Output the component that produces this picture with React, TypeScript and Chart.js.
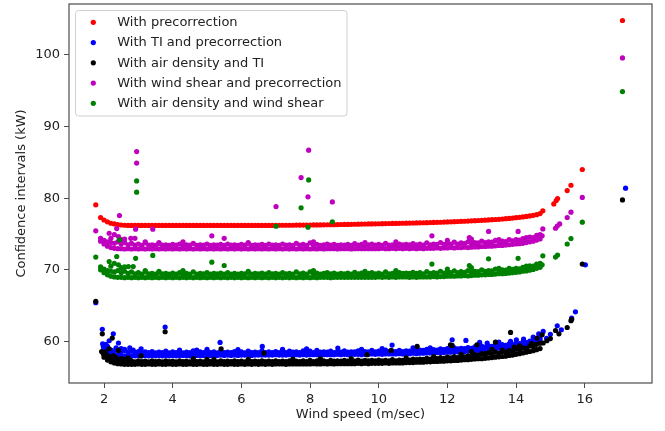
import React, { useEffect, useRef } from "react";
import { Chart, registerables } from "chart.js";

Chart.register(...registerables);

// Shared wind-speed positions for the dense part of each band (m/sec)
const windGrid = [
  1.9, 2.0, 2.1, 2.2, 2.3, 2.4, 2.5, 2.6, 2.7, 2.8,
  2.9, 3.0, 3.1, 3.2, 3.3, 3.4, 3.5, 3.6, 3.7, 3.8,
  3.9, 4.0, 4.1, 4.2, 4.3, 4.4, 4.5, 4.6, 4.7, 4.8,
  4.9, 5.0, 5.1, 5.2, 5.3, 5.4, 5.5, 5.6, 5.7, 5.8,
  5.9, 6.0, 6.1, 6.2, 6.3, 6.4, 6.5, 6.6, 6.7, 6.8,
  6.9, 7.0, 7.1, 7.2, 7.3, 7.4, 7.5, 7.6, 7.7, 7.8,
  7.9, 8.0, 8.1, 8.2, 8.3, 8.4, 8.5, 8.6, 8.7, 8.8,
  8.9, 9.0, 9.1, 9.2, 9.3, 9.4, 9.5, 9.6, 9.7, 9.8,
  9.9, 10.0, 10.1, 10.2, 10.3, 10.4, 10.5, 10.6, 10.7, 10.8,
  10.9, 11.0, 11.1, 11.2, 11.3, 11.4, 11.5, 11.6, 11.7, 11.8,
  11.9, 12.0, 12.1, 12.2, 12.3, 12.4, 12.5, 12.6, 12.7, 12.8,
  12.9, 13.0, 13.1, 13.2, 13.3, 13.4, 13.5, 13.6, 13.7, 13.8,
  13.9, 14.0, 14.1, 14.2, 14.3, 14.4, 14.5, 14.6, 14.7,
];

// With precorrection (red)
const precorrectionBand = [
  77.3, 76.95, 76.7, 76.5, 76.4, 76.3, 76.25, 76.22, 76.2, 76.2,
  76.2, 76.2, 76.2, 76.2, 76.2, 76.2, 76.2, 76.2, 76.2, 76.2,
  76.2, 76.2, 76.2, 76.2, 76.2, 76.2, 76.2, 76.2, 76.2, 76.2,
  76.2, 76.2, 76.2, 76.2, 76.2, 76.2, 76.2, 76.2, 76.2, 76.2,
  76.2, 76.2, 76.2, 76.2, 76.2, 76.2, 76.2, 76.2, 76.2, 76.2,
  76.2, 76.2, 76.22, 76.22, 76.22, 76.22, 76.22, 76.24, 76.24, 76.24,
  76.25, 76.25, 76.26, 76.27, 76.27, 76.28, 76.29, 76.3, 76.3, 76.31,
  76.32, 76.33, 76.34, 76.35, 76.36, 76.37, 76.38, 76.39, 76.4, 76.41,
  76.42, 76.43, 76.44, 76.45, 76.46, 76.47, 76.48, 76.49, 76.5, 76.51,
  76.52, 76.53, 76.54, 76.55, 76.57, 76.58, 76.6, 76.61, 76.63, 76.64,
  76.66, 76.68, 76.7, 76.72, 76.74, 76.76, 76.78, 76.8, 76.83, 76.85,
  76.88, 76.9, 76.93, 76.96, 76.99, 77.02, 77.05, 77.09, 77.13, 77.17,
  77.22, 77.27, 77.32, 77.38, 77.45, 77.52, 77.6, 77.7, 77.85,
];
const precorrectionExtra = [
  [1.76, 79.07], [14.78, 78.23], [15.1, 79.2], [15.17, 79.67], [15.21, 79.95],
  [15.49, 81.06], [15.6, 81.8], [15.93, 84.0], [17.1, 104.8],
];

// With TI and precorrection (blue): lower and upper edge of the dense band
const tiPrecorrectionLow = [
  null, 59.0, 58.6, 58.35, 58.2, 58.1, 58.05, 58.0, 58.0, 58.0,
  58.0, 58.05, 58.0, 58.05, 58.0, 58.05, 58.0, 58.05, 58.0, 58.05,
  58.0, 58.05, 58.0, 58.05, 58.05, 58.05, 58.0, 58.05, 58.05, 58.05,
  58.05, 58.1, 58.05, 58.05, 58.05, 58.1, 58.05, 58.1, 58.05, 58.1,
  58.05, 58.1, 58.1, 58.1, 58.05, 58.1, 58.1, 58.1, 58.1, 58.1,
  58.1, 58.15, 58.1, 58.1, 58.1, 58.15, 58.1, 58.15, 58.1, 58.15,
  58.1, 58.15, 58.15, 58.15, 58.1, 58.15, 58.15, 58.15, 58.15, 58.2,
  58.15, 58.2, 58.15, 58.2, 58.2, 58.2, 58.15, 58.2, 58.2, 58.25,
  58.2, 58.25, 58.2, 58.25, 58.25, 58.25, 58.25, 58.3, 58.25, 58.3,
  58.3, 58.35, 58.3, 58.35, 58.35, 58.4, 58.4, 58.4, 58.45, 58.45,
  58.45, 58.5, 58.5, 58.55, 58.55, 58.6, 58.6, 58.65, 58.7, 58.75,
  58.75, 58.8, 58.85, 58.9, 58.95, 59.0, 59.05, 59.1, 59.15, 59.25,
  59.3, 59.35, 59.45, 59.55, 59.6, 59.7, 59.8, 59.95, 60.05,
];
const tiPrecorrectionHigh = [
  null, 59.4, 59.0, 58.8, 58.7, 58.85, 58.55, 58.75, 58.5, 58.65,
  58.45, 58.6, 58.4, 58.55, 58.45, 58.6, 58.4, 58.5, 58.45, 58.65,
  58.4, 58.55, 58.45, 58.6, 58.4, 58.5, 58.45, 58.7, 58.4, 58.55,
  58.45, 58.7, 58.45, 58.55, 58.4, 58.65, 58.45, 58.5, 58.45, 58.6,
  58.45, 58.55, 58.4, 58.65, 58.45, 58.5, 58.45, 58.7, 58.45, 58.55,
  58.45, 58.6, 58.45, 58.55, 58.45, 58.65, 58.5, 58.55, 58.45, 58.7,
  58.5, 58.65, 58.45, 58.75, 58.5, 58.55, 58.5, 58.65, 58.45, 58.6,
  58.5, 58.7, 58.5, 58.55, 58.55, 58.7, 58.5, 58.6, 58.55, 58.75,
  58.55, 58.65, 58.55, 58.8, 58.6, 58.65, 58.6, 58.75, 58.6, 58.7,
  58.65, 58.8, 58.7, 58.8, 58.75, 58.9, 58.75, 58.85, 58.8, 58.95,
  58.85, 59.0, 58.9, 59.1, 58.95, 59.05, 59.0, 59.15, 59.05, 59.25,
  59.15, 59.35, 59.2, 59.4, 59.3, 59.45, 59.35, 59.55, 59.45, 59.65,
  59.55, 59.8, 59.7, 59.9, 59.85, 60.05, 60.0, 60.3, 60.4,
];
const tiPrecorrectionExtra = [
  [1.76, 65.4], [1.95, 61.7], [1.96, 59.68], [1.98, 59.3], [2.05, 59.6], [2.15, 60.1],
  [2.1, 59.3], [2.27, 61.07], [2.42, 59.78], [2.35, 59.1], [2.5, 59.0], [2.6, 58.9],
  [2.75, 59.1], [2.85, 58.8], [3.08, 58.98], [3.78, 62.0], [4.2, 58.8], [4.7, 58.8],
  [5.0, 58.9], [5.38, 59.87], [5.9, 58.85], [6.61, 59.3], [7.2, 58.9], [7.9, 58.95],
  [8.81, 59.07], [9.5, 58.9], [10.39, 59.5], [10.1, 59.0], [11.0, 59.1], [11.5, 59.1],
  [12.14, 60.24], [12.54, 60.14], [12.94, 59.86], [13.16, 59.78], [13.5, 59.9],
  [13.84, 60.0], [14.01, 60.24], [14.22, 60.33], [14.5, 60.6], [14.66, 61.07],
  [14.79, 61.4], [14.89, 60.42], [15.0, 61.0], [15.2, 62.19], [15.32, 61.63],
  [15.62, 63.26], [15.73, 64.14], [16.02, 70.7], [17.19, 81.4],
];

// With air density and TI (black): lower and upper edge of the dense band
const airTiLow = [
  null, 57.8, 57.4, 57.15, 57.0, 56.9, 56.85, 56.8, 56.8, 56.8,
  56.8, 56.85, 56.8, 56.8, 56.85, 56.8, 56.8, 56.85, 56.8, 56.8,
  56.85, 56.8, 56.8, 56.85, 56.8, 56.8, 56.85, 56.8, 56.8, 56.85,
  56.8, 56.8, 56.85, 56.8, 56.8, 56.85, 56.8, 56.8, 56.85, 56.8,
  56.8, 56.85, 56.8, 56.85, 56.8, 56.85, 56.8, 56.85, 56.8, 56.85,
  56.8, 56.85, 56.85, 56.85, 56.8, 56.85, 56.85, 56.85, 56.85, 56.85,
  56.85, 56.85, 56.9, 56.85, 56.85, 56.9, 56.85, 56.9, 56.85, 56.9,
  56.9, 56.9, 56.9, 56.9, 56.9, 56.95, 56.9, 56.95, 56.9, 56.95,
  56.95, 56.95, 56.95, 57.0, 56.95, 57.0, 57.0, 57.0, 57.0, 57.05,
  57.05, 57.05, 57.1, 57.1, 57.1, 57.15, 57.15, 57.2, 57.2, 57.25,
  57.25, 57.3, 57.3, 57.35, 57.35, 57.4, 57.45, 57.45, 57.5, 57.55,
  57.6, 57.6, 57.65, 57.7, 57.75, 57.8, 57.85, 57.9, 57.95, 58.05,
  58.1, 58.2, 58.3, 58.4, 58.5, 58.6, 58.7, 58.85, 59.0,
];
const airTiHigh = [
  null, 58.3, 58.0, 57.7, 57.55, 57.45, 57.35, 57.3, 57.25, 57.3,
  57.15, 57.3, 57.2, 57.25, 57.15, 57.3, 57.2, 57.25, 57.15, 57.3,
  57.2, 57.25, 57.15, 57.3, 57.2, 57.25, 57.15, 57.3, 57.2, 57.25,
  57.15, 57.3, 57.2, 57.25, 57.15, 57.3, 57.2, 57.25, 57.2, 57.3,
  57.2, 57.25, 57.15, 57.3, 57.2, 57.25, 57.2, 57.3, 57.2, 57.25,
  57.2, 57.3, 57.2, 57.25, 57.2, 57.3, 57.2, 57.25, 57.2, 57.3,
  57.2, 57.35, 57.2, 57.3, 57.25, 57.3, 57.2, 57.35, 57.25, 57.3,
  57.25, 57.35, 57.25, 57.3, 57.25, 57.4, 57.25, 57.35, 57.3, 57.35,
  57.3, 57.4, 57.3, 57.35, 57.3, 57.45, 57.3, 57.4, 57.35, 57.45,
  57.4, 57.55, 57.45, 57.55, 57.5, 57.65, 57.55, 57.6, 57.6, 57.75,
  57.65, 57.8, 57.7, 57.9, 57.75, 58.0, 57.85, 58.0, 57.95, 58.15,
  58.05, 58.3, 58.15, 58.4, 58.25, 58.5, 58.35, 58.6, 58.5, 58.75,
  58.65, 58.9, 58.85, 59.1, 59.05, 59.35, 59.3, 59.6, 59.75,
];
const airTiExtra = [
  [1.76, 65.6], [1.95, 61.07], [1.93, 58.6], [1.98, 58.3], [2.03, 58.5], [2.08, 58.1],
  [2.15, 58.98], [2.24, 60.47], [2.2, 57.9], [2.28, 58.0], [2.35, 57.7], [2.42, 58.75],
  [2.5, 57.6], [2.6, 57.5], [2.7, 57.7], [2.75, 57.4], [3.08, 58.0], [3.78, 61.35],
  [4.6, 57.6], [5.0, 57.5], [5.41, 58.98], [5.2, 57.5], [6.66, 58.38], [6.2, 57.5],
  [7.5, 57.55], [8.3, 57.6], [9.66, 58.15], [9.2, 57.6], [10.36, 58.75], [10.8, 57.7],
  [11.12, 59.3], [11.6, 57.9], [12.09, 59.54], [12.14, 59.45], [12.4, 58.2], [12.7, 58.6],
  [12.86, 59.54], [13.1, 58.3], [13.3, 58.9], [13.4, 59.9], [13.6, 58.8], [13.84, 61.26],
  [13.95, 59.2], [14.1, 59.4], [14.3, 58.9], [14.45, 59.7], [14.61, 60.47], [14.76, 60.93],
  [14.79, 59.78], [14.9, 60.1], [15.0, 60.4], [15.15, 61.53], [15.25, 61.07], [15.49, 61.95],
  [15.6, 62.9], [15.62, 63.1], [15.93, 70.8], [17.1, 79.76],
];

// With wind shear and precorrection (magenta): lower and upper edge of the dense band
const shearPrecorrectionLow = [
  74.0, 73.6, 73.3, 73.1, 73.0, 72.95, 72.95, 72.9, 72.95, 72.9,
  72.95, 72.9, 72.95, 72.9, 72.95, 72.9, 72.95, 72.9, 72.95, 72.9,
  72.95, 72.9, 72.95, 72.9, 72.95, 72.9, 72.95, 72.9, 72.95, 72.9,
  72.95, 72.9, 72.95, 72.9, 72.95, 72.9, 72.95, 72.9, 72.95, 72.9,
  72.95, 72.9, 72.95, 72.9, 72.95, 72.9, 72.95, 72.9, 72.95, 72.9,
  72.95, 72.9, 72.95, 72.9, 72.95, 72.9, 72.95, 72.9, 72.95, 72.9,
  72.95, 72.9, 72.95, 72.9, 72.95, 72.9, 72.95, 72.95, 72.95, 72.9,
  72.95, 72.95, 72.95, 72.9, 72.95, 72.95, 72.95, 72.95, 72.95, 72.95,
  72.95, 72.95, 73.0, 72.95, 72.95, 73.0, 72.95, 73.0, 72.95, 73.0,
  72.95, 73.0, 72.95, 73.0, 72.95, 73.0, 73.0, 73.0, 73.05, 73.0,
  73.05, 73.05, 73.1, 73.05, 73.1, 73.1, 73.15, 73.1, 73.15, 73.2,
  73.2, 73.25, 73.25, 73.3, 73.3, 73.35, 73.4, 73.4, 73.45, 73.5,
  73.55, 73.6, 73.65, 73.7, 73.8, 73.9, 74.0, 74.15, 74.3,
];
const shearPrecorrectionHigh = [
  74.4, 74.1, 73.9, 73.8, 73.7, 73.9, 73.6, 73.8, 73.5, 73.7,
  73.45, 73.6, 73.4, 73.75, 73.45, 73.5, 73.4, 73.65, 73.45, 73.5,
  73.4, 73.55, 73.45, 73.6, 73.4, 73.5, 73.45, 73.7, 73.4, 73.5,
  73.45, 73.6, 73.4, 73.5, 73.45, 73.55, 73.4, 73.6, 73.45, 73.5,
  73.4, 73.55, 73.45, 73.65, 73.4, 73.5, 73.45, 73.55, 73.4, 73.6,
  73.45, 73.5, 73.4, 73.6, 73.45, 73.5, 73.4, 73.7, 73.45, 73.55,
  73.4, 73.75, 73.45, 73.55, 73.4, 73.5, 73.6, 73.45, 73.55, 73.4,
  73.5, 73.45, 73.55, 73.4, 73.65, 73.45, 73.55, 73.4, 73.5, 73.6,
  73.45, 73.55, 73.4, 73.7, 73.45, 73.5, 73.45, 73.6, 73.5, 73.55,
  73.5, 73.65, 73.5, 73.6, 73.45, 73.75, 73.5, 73.6, 73.55, 73.8,
  73.55, 73.7, 73.6, 73.85, 73.6, 73.75, 73.65, 73.9, 73.7, 73.8,
  73.75, 74.0, 73.8, 73.9, 73.85, 74.1, 73.9, 74.0, 73.95, 74.2,
  74.05, 74.2, 74.15, 74.35, 74.3, 74.55, 74.5, 74.8, 74.9,
];
const shearPrecorrectionExtra = [
  [1.76, 75.44], [2.15, 75.1], [2.2, 74.4], [2.3, 74.9], [2.37, 75.76], [2.42, 74.65],
  [2.45, 77.57], [2.5, 74.2], [2.6, 74.3], [2.78, 74.4], [2.9, 74.4], [2.92, 75.67],
  [2.95, 84.9], [2.95, 86.5], [3.2, 73.9], [3.42, 75.67], [3.6, 73.8], [4.3, 73.9],
  [5.14, 74.74], [5.5, 74.4], [6.2, 73.8], [7.01, 78.83], [7.74, 82.87], [7.94, 80.18],
  [7.96, 86.7], [8.1, 73.9], [8.65, 79.48], [9.6, 73.8], [10.5, 73.9], [11.55, 74.74],
  [12.0, 74.1], [12.64, 74.5], [12.7, 74.3], [13.2, 75.35], [13.5, 74.2], [14.06, 75.35],
  [14.3, 74.5], [14.76, 74.74], [14.78, 75.7], [15.15, 75.8], [15.2, 76.1], [15.27, 76.4],
  [15.49, 77.3], [15.6, 78.05], [15.93, 80.1], [17.1, 99.57],
];

// With air density and wind shear (green): lower and upper edge of the dense band
const airShearLow = [
  70.0, 69.6, 69.3, 69.1, 69.0, 68.95, 68.95, 68.9, 68.95, 68.9,
  68.95, 68.9, 68.95, 68.9, 68.95, 68.9, 68.95, 68.9, 68.95, 68.9,
  68.95, 68.9, 68.95, 68.9, 68.95, 68.9, 68.95, 68.9, 68.95, 68.9,
  68.95, 68.9, 68.95, 68.9, 68.95, 68.9, 68.95, 68.9, 68.95, 68.9,
  68.95, 68.9, 68.95, 68.9, 68.95, 68.9, 68.95, 68.9, 68.95, 68.9,
  68.95, 68.9, 68.95, 68.9, 68.95, 68.9, 68.95, 68.9, 68.95, 68.9,
  68.95, 68.9, 68.95, 68.9, 68.95, 68.95, 68.95, 68.9, 68.95, 68.95,
  68.95, 68.95, 68.95, 68.95, 68.95, 68.95, 68.95, 68.95, 68.95, 68.95,
  68.95, 69.0, 68.95, 69.0, 68.95, 69.0, 68.95, 69.0, 69.0, 69.0,
  68.95, 69.0, 68.95, 69.0, 69.0, 69.0, 69.0, 69.05, 69.0, 69.05,
  69.05, 69.1, 69.1, 69.1, 69.15, 69.15, 69.2, 69.15, 69.2, 69.25,
  69.25, 69.3, 69.3, 69.35, 69.35, 69.4, 69.45, 69.45, 69.5, 69.55,
  69.6, 69.65, 69.7, 69.8, 69.85, 69.95, 70.05, 70.2, 70.35,
];
const airShearHigh = [
  70.4, 70.1, 69.9, 69.8, 69.7, 69.9, 69.6, 69.8, 69.5, 69.7,
  69.45, 69.6, 69.4, 69.7, 69.45, 69.5, 69.4, 69.65, 69.45, 69.5,
  69.4, 69.55, 69.4, 69.6, 69.45, 69.5, 69.4, 69.7, 69.4, 69.5,
  69.45, 69.6, 69.4, 69.5, 69.45, 69.55, 69.4, 69.6, 69.4, 69.5,
  69.4, 69.5, 69.45, 69.65, 69.4, 69.5, 69.45, 69.55, 69.4, 69.6,
  69.45, 69.5, 69.4, 69.6, 69.45, 69.5, 69.4, 69.7, 69.45, 69.55,
  69.4, 69.7, 69.45, 69.55, 69.4, 69.5, 69.6, 69.45, 69.55, 69.4,
  69.5, 69.45, 69.55, 69.4, 69.65, 69.45, 69.55, 69.4, 69.5, 69.6,
  69.45, 69.55, 69.4, 69.7, 69.45, 69.5, 69.45, 69.6, 69.5, 69.55,
  69.5, 69.65, 69.5, 69.6, 69.45, 69.75, 69.5, 69.6, 69.55, 69.8,
  69.55, 69.7, 69.6, 69.85, 69.6, 69.75, 69.65, 69.9, 69.7, 69.8,
  69.75, 70.0, 69.8, 69.9, 69.85, 70.1, 69.9, 70.0, 69.95, 70.2,
  70.05, 70.2, 70.15, 70.35, 70.3, 70.55, 70.5, 70.8, 70.9,
];
const airShearExtra = [
  [1.76, 71.77], [2.15, 71.16], [2.2, 70.5], [2.3, 70.9], [2.37, 71.86], [2.42, 70.7],
  [2.45, 74.18], [2.5, 70.3], [2.6, 70.4], [2.71, 70.45], [2.85, 70.45], [2.92, 71.6],
  [2.95, 80.84], [2.95, 82.4], [3.2, 69.9], [3.42, 72.0], [3.6, 69.8], [4.3, 69.9],
  [5.14, 71.07], [5.5, 70.6], [6.2, 69.8], [7.01, 76.09], [7.74, 78.65], [7.94, 75.95],
  [7.96, 82.55], [8.1, 69.9], [8.65, 76.7], [9.6, 69.8], [10.5, 69.9], [11.55, 70.8],
  [12.0, 70.1], [12.64, 70.6], [12.7, 70.3], [13.2, 71.53], [13.5, 70.2], [14.06, 71.6],
  [14.3, 70.5], [14.76, 70.7], [14.78, 71.95], [15.15, 71.77], [15.21, 72.05],
  [15.49, 73.6], [15.6, 74.36], [15.93, 76.65], [17.1, 94.87],
];

const seriesLabels = [
  "With precorrection",
  "With TI and precorrection",
  "With air density and TI",
  "With wind shear and precorrection",
  "With air density and wind shear",
];
const seriesColors = ["#ff0000", "#0000ff", "#000000", "#bf00bf", "#008000"];
const xTickValues = [2, 4, 6, 8, 10, 12, 14, 16];
const yTickValues = [60, 70, 80, 90, 100];

const FONT = "'DejaVu Sans', 'Liberation Sans', sans-serif";

function buildPoints(bands: (number | null)[][], extra: number[][]) {
  const pts: { x: number; y: number }[] = [];
  bands.forEach((band) => {
    windGrid.forEach((x, i) => {
      const y = band[i];
      if (y !== null && y !== undefined) pts.push({ x, y });
    });
  });
  extra.forEach(([x, y]) => pts.push({ x, y }));
  return pts;
}

const framePlugin = {
  id: "frame",
  afterDatasetsDraw(chart: any) {
    const { ctx, chartArea } = chart;
    ctx.save();
    ctx.strokeStyle = "#4d4d4d";
    ctx.lineWidth = 1.2;
    ctx.strokeRect(chartArea.left, chartArea.top, chartArea.right - chartArea.left, chartArea.bottom - chartArea.top);
    ctx.restore();
  },
};

const legendPlugin = {
  id: "mplLegend",
  afterDraw(chart: any) {
    const { ctx } = chart;
    const x0 = 75.5, y0 = 10.5, w = 271.5, h = 105.5, r = 3;
    ctx.save();
    ctx.beginPath();
    ctx.moveTo(x0 + r, y0);
    ctx.lineTo(x0 + w - r, y0);
    ctx.arcTo(x0 + w, y0, x0 + w, y0 + r, r);
    ctx.lineTo(x0 + w, y0 + h - r);
    ctx.arcTo(x0 + w, y0 + h, x0 + w - r, y0 + h, r);
    ctx.lineTo(x0 + r, y0 + h);
    ctx.arcTo(x0, y0 + h, x0, y0 + h - r, r);
    ctx.lineTo(x0, y0 + r);
    ctx.arcTo(x0, y0, x0 + r, y0, r);
    ctx.closePath();
    ctx.fillStyle = "rgba(255,255,255,0.85)";
    ctx.fill();
    ctx.strokeStyle = "#d0d0d0";
    ctx.lineWidth = 1;
    ctx.stroke();
    ctx.font = `13px ${FONT}`;
    ctx.textBaseline = "middle";
    ctx.textAlign = "left";
    chart.data.datasets.forEach((ds: any, i: number) => {
      const yy = 22.3 + i * 20.25;
      ctx.beginPath();
      ctx.arc(93.3, yy, 2.6, 0, Math.PI * 2);
      ctx.fillStyle = ds.backgroundColor;
      ctx.fill();
      ctx.fillStyle = "#222";
      ctx.fillText(ds.label, 117.3, yy + 0.5);
    });
    ctx.restore();
  },
};

export default function App() {
  const ref = useRef<HTMLCanvasElement>(null);
  useEffect(() => {
    document.body.style.margin = "0";
    const bands = [
      [precorrectionBand],
      [tiPrecorrectionLow, tiPrecorrectionHigh],
      [airTiLow, airTiHigh],
      [shearPrecorrectionLow, shearPrecorrectionHigh],
      [airShearLow, airShearHigh],
    ];
    const extras = [precorrectionExtra, tiPrecorrectionExtra, airTiExtra, shearPrecorrectionExtra, airShearExtra];
    const datasets = seriesLabels.map((label, i) => ({
      label,
      data: buildPoints(bands[i], extras[i]),
      backgroundColor: seriesColors[i],
      borderColor: seriesColors[i],
      pointRadius: 2.6,
      pointBorderWidth: 0,
      pointHoverRadius: 2.6,
      order: seriesLabels.length - i,
    }));
    const tickFont = { family: FONT, size: 13 };
    const chart = new Chart(ref.current as HTMLCanvasElement, {
      type: "scatter",
      data: { datasets },
      options: {
        responsive: false,
        animation: false,
        devicePixelRatio: 1,
        events: [],
        layout: { padding: { left: 0, right: 13, top: 4, bottom: 0 } },
        plugins: { legend: { display: false }, tooltip: { enabled: false } },
        scales: {
          x: {
            type: "linear",
            min: 0.98,
            max: 17.96,
            afterBuildTicks: (s: any) => {
              s.ticks = xTickValues.map((v) => ({ value: v }));
            },
            afterFit: (s: any) => {
              s.height = 48;
              s.paddingLeft = 0;
              s.paddingRight = 0;
            },
            grid: { drawOnChartArea: false, drawTicks: true, tickLength: 5, color: "#4d4d4d", lineWidth: 1 },
            border: { display: false },
            ticks: { color: "#222", font: tickFont, padding: 4, maxRotation: 0, autoSkip: false },
            title: { display: true, text: "Wind speed (m/sec)", color: "#222", font: tickFont, padding: { top: 0, bottom: 9 } },
          },
          y: {
            type: "linear",
            min: 54.2,
            max: 107.1,
            afterBuildTicks: (s: any) => {
              s.ticks = yTickValues.map((v) => ({ value: v }));
            },
            afterFit: (s: any) => {
              s.width = 69;
              s.paddingTop = 0;
              s.paddingBottom = 0;
            },
            grid: { drawOnChartArea: false, drawTicks: true, tickLength: 5, color: "#4d4d4d", lineWidth: 1 },
            border: { display: false },
            ticks: { color: "#222", font: tickFont, padding: 4, autoSkip: false },
            title: { display: true, text: "Confidence intervals (kW)", color: "#222", font: tickFont, padding: { top: 14, bottom: 0 } },
          },
        },
      },
      plugins: [framePlugin, legendPlugin],
    } as any);
    return () => chart.destroy();
  }, []);
  return (
    <div style={{ position: "absolute", left: 0, top: 0, width: 665, height: 431, background: "#fff" }}>
      <canvas ref={ref} width={665} height={431} style={{ display: "block", width: 665, height: 431 }} />
    </div>
  );
}
